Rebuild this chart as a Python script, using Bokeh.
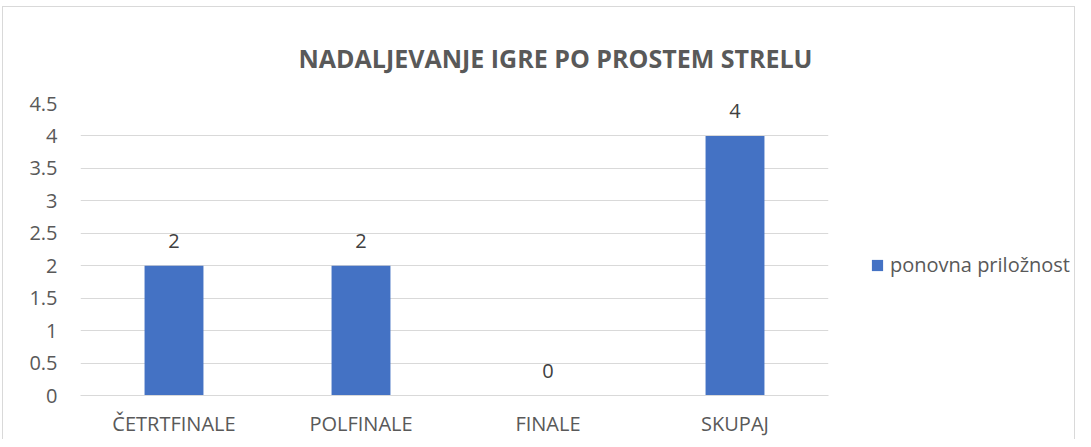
from bokeh.plotting import figure
from bokeh.layouts import column, row
from bokeh.models import (ColumnDataSource, Range1d, FixedTicker, NumeralTickFormatter,
                          Legend, LegendItem, Spacer, FactorRange)
from bokeh.embed import file_html
from bokeh.resources import INLINE
from bokeh.core.properties import value

categories = ["ČETRTFINALE", "POLFINALE", "FINALE", "SKUPAJ"]
values = [2, 2, 0, 4]
series_name = "ponovna priložnost"
title_text = "NADALJEVANJE IGRE PO PROSTEM STRELU"
y_ticks = [0, 0.5, 1, 1.5, 2, 2.5, 3, 3.5, 4, 4.5]

FONT = "Open Sans"
TXT = "#595959"
GRID = "#d9d9d9"
BAR = "#4472C4"

src = ColumnDataSource(dict(cat=categories, val=values, lab=[str(v) for v in values]))

p = figure(x_range=categories, y_range=Range1d(0, 4.5), width=835, height=432,
           output_backend="svg", toolbar_location=None,
           min_border_left=77, min_border_right=10, min_border_top=96, min_border_bottom=44)

p.title.text = title_text
p.title.align = "left"
p.title.text_font = FONT
p.title.text_font_size = "25px"
p.title.text_font_style = "bold"
p.title.text_color = TXT
p.title.offset = 218
p.title.standoff = 58

bars = p.vbar(x="cat", top="val", width=0.315, source=src, fill_color=BAR, line_color=None)
p.text(x="cat", y="val", text="lab", source=src, text_align="center",
       text_baseline="alphabetic", y_offset=-25, text_font=value(FONT),
       text_font_size="20px", text_color="#404040")

p.xgrid.grid_line_color = None
p.ygrid.grid_line_color = GRID
p.ygrid.grid_line_width = 1
p.yaxis.ticker = FixedTicker(ticks=y_ticks)
p.yaxis.formatter = NumeralTickFormatter(format="0.[0]")

for ax in (p.xaxis[0], p.yaxis[0]):
    ax.major_tick_line_color = None
    ax.minor_tick_line_color = None
    ax.major_tick_out = 0
    ax.major_tick_in = 0
    ax.minor_tick_out = 0
    ax.major_label_text_font = FONT
    ax.major_label_text_font_size = "20px"
    ax.major_label_text_color = TXT
p.yaxis.axis_line_color = None
p.xaxis.axis_line_color = GRID
p.yaxis.major_label_standoff = 23
p.xaxis.major_label_standoff = 14

p.outline_line_color = None
p.background_fill_color = "white"
p.border_fill_color = "white"

# legend panel as a separate small figure (its frame aligns with the main frame)
pl = figure(width=236, height=432, x_range=FactorRange(*categories), y_range=Range1d(0, 1),
            output_backend="svg", toolbar_location=None,
            x_axis_location=None, y_axis_location=None,
            min_border_left=0, min_border_right=0, min_border_top=0, min_border_bottom=0)
pl.xgrid.grid_line_color = None
pl.ygrid.grid_line_color = None
pl.outline_line_color = None
pl.background_fill_color = "white"
pl.border_fill_color = "white"
swatch = pl.vbar(x="cat", top="val", source=src, width=0.315, fill_color=BAR, line_color=None)
swatch.visible = False

legend = Legend(items=[LegendItem(label=series_name, renderers=[swatch])],
                location=(22, 107), border_line_alpha=0, background_fill_alpha=0,
                label_text_font=FONT, label_text_font_size="20px", label_text_color=TXT,
                glyph_width=14, glyph_height=14, margin=0, padding=10, spacing=0,
                label_standoff=6, inactive_fill_alpha=0)
pl.add_layout(legend)

inner = row(p, pl)
inner.styles = {"border-left": "1px solid #d9d9d9", "border-top": "1px solid #d9d9d9",
                "border-right": "1px solid #d9d9d9"}
layout = column(Spacer(height=6), row(Spacer(width=2), inner))
open("out.html", "w").write(file_html(layout, INLINE))
